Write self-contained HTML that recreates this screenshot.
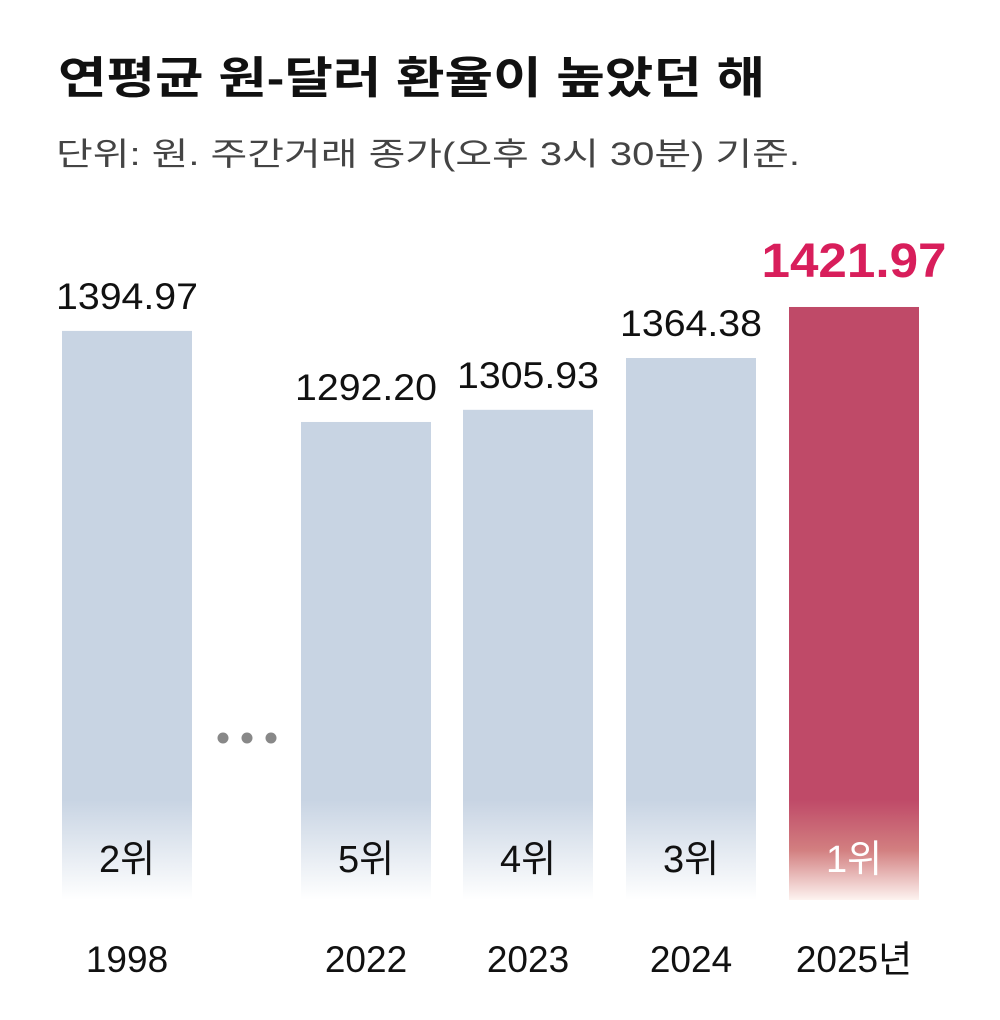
<!DOCTYPE html>
<html><head><meta charset="utf-8"><style>
html,body{margin:0;padding:0;background:#fff;width:1000px;height:1020px;overflow:hidden}
svg{display:block;font-family:"Liberation Sans","Noto Sans CJK KR",sans-serif}
</style></head><body>
<svg id="chart" width="1000" height="1020" viewBox="0 0 1000 1020">
<defs>
<linearGradient id="fadeBlue" x1="0" y1="0" x2="0" y2="1"><stop offset="0" stop-color="#c8d4e3"/><stop offset="1" stop-color="#ffffff"/></linearGradient>
<linearGradient id="fadeRed" x1="0" y1="0" x2="0" y2="1"><stop offset="0" stop-color="#bf4a68"/><stop offset="0.5" stop-color="#d27f80"/><stop offset="1" stop-color="#fdf3f0"/></linearGradient>
</defs>
<text x="58" y="93" font-size="44" font-weight="bold" fill="#111" textLength="707" lengthAdjust="spacingAndGlyphs">연평균 원-달러 환율이 높았던 해</text>
<text x="56" y="165" font-size="32" fill="#444" textLength="744" lengthAdjust="spacingAndGlyphs">단위: 원. 주간거래 종가(오후 3시 30분) 기준.</text>
<g fill="#888">
<circle cx="223" cy="738" r="5.5"/><circle cx="247" cy="738" r="5.5"/><circle cx="271" cy="738" r="5.5"/>
</g>
<g id="bars"></g>
</svg>
<script>
const categories = ["1998","2022","2023","2024","2025년"];
const values = [1394.97,1292.20,1305.93,1364.38,1421.97];
const valueLabels = ["1394.97","1292.20","1305.93","1364.38","1421.97"];
const ranks = ["2위","5위","4위","3위","1위"];
const highlight = [false,false,false,false,true];

const xLeft = [62,301,463,626,789];
const barW = 130;
const yBase = 900;
const vBase = 752.8;
const pxPerUnit = 0.8862;
function y(v){ return yBase - (v - vBase) * pxPerUnit; }

const NS = "http://www.w3.org/2000/svg";
const g = document.getElementById("bars");
function mk(tag, attrs){ const e=document.createElementNS(NS,tag); for(const k in attrs) e.setAttribute(k,attrs[k]); return e; }

values.forEach((v,i)=>{
  const x = xLeft[i], top = y(v), hi = highlight[i];
  const solid = mk("rect",{x:x,y:top,width:barW,height:Math.max(0,800-top),fill:hi?"#bf4a68":"#c8d4e3"});
  
  
  g.appendChild(solid);
  const fade = mk("rect",{x:x,y:800,width:barW,height:yBase-800,fill:hi?"url(#fadeRed)":"url(#fadeBlue)"});
  
  
  g.appendChild(fade);
  const vl = mk("text",{x:x+barW/2,y:top-(hi?30:22),"text-anchor":"middle","font-size":hi?48:37,"font-weight":hi?"bold":"normal",fill:hi?"#d81e5b":"#111",textLength:hi?185:142,lengthAdjust:"spacingAndGlyphs"});
  vl.textContent = valueLabels[i];
  
  
  g.appendChild(vl);
  const rl = mk("text",{x:x+barW/2,y:872,"text-anchor":"middle","font-size":38,fill:hi?"#fff":"#111"});
  rl.textContent = ranks[i];
  
  
  g.appendChild(rl);
  const cl = mk("text",{x:x+barW/2,y:972,"text-anchor":"middle","font-size":37,fill:"#111"});
  cl.textContent = categories[i];
  
  
  g.appendChild(cl);
});
</script>
</body></html>
